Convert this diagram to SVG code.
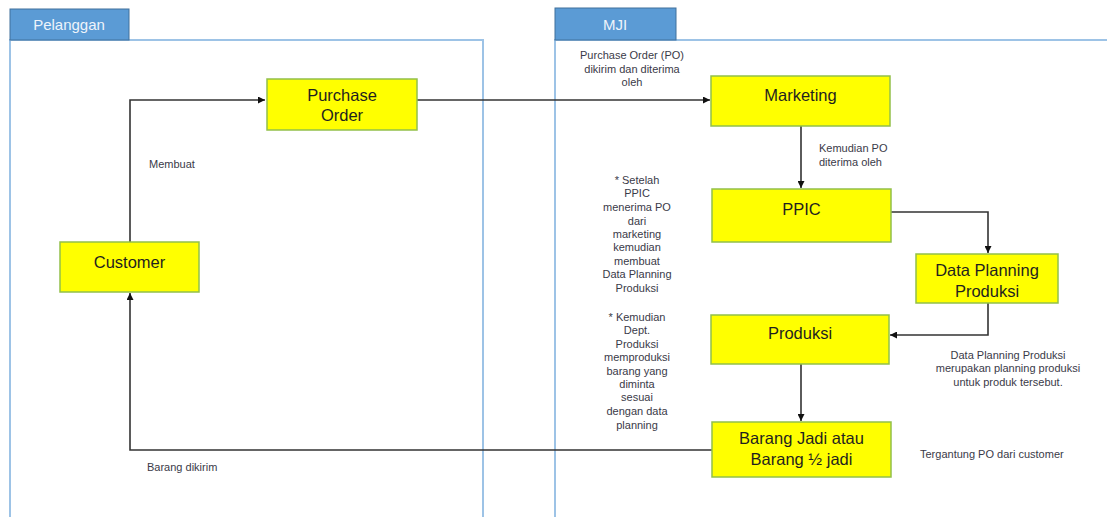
<svg xmlns="http://www.w3.org/2000/svg" width="1107" height="517" viewBox="0 0 1107 517">
<style>
.lane{fill:none;stroke:#9dc3e6;stroke-width:2}
.tab{fill:#5b9bd5;stroke:#41719c;stroke-width:1}
.tabt{font-family:"Liberation Sans",Arial,sans-serif;font-size:15px;fill:#eef4fb;text-anchor:middle}
.box{fill:#ffff00;stroke:#92c04a;stroke-width:1.5}
.bt{font-family:"Liberation Sans",Arial,sans-serif;font-size:16.5px;fill:#1f1f1f;text-anchor:middle}
.st{font-family:"Liberation Sans",Arial,sans-serif;font-size:11px;fill:#3a3a48}
.c{text-anchor:middle}
.ln{fill:none;stroke:#333;stroke-width:1.6}
</style>
<defs>
<marker id="ah" viewBox="0 0 10 10" refX="10" refY="5" markerWidth="7" markerHeight="7" markerUnits="userSpaceOnUse" orient="auto">
<path d="M0,0 L10,5 L0,10 z" fill="#111"/>
</marker>
</defs>
<rect width="1107" height="517" fill="#fff"/>
<g id="lane-pelanggan">
<rect class="lane" x="10" y="40" width="473" height="500"/>
<rect class="tab" x="10" y="9" width="119" height="31"/>
<text class="tabt" x="69" y="30">Pelanggan</text>
</g>
<g id="lane-mji">
<rect class="lane" x="555" y="40" width="570" height="500"/>
<rect class="tab" x="555" y="8" width="121" height="32"/>
<text class="tabt" x="615" y="30">MJI</text>
</g>
<g id="connectors">
<path class="ln" d="M130,242 V100 H265" marker-end="url(#ah)"/>
<path class="ln" d="M417,100 H710" marker-end="url(#ah)"/>
<path class="ln" d="M801,126 V188" marker-end="url(#ah)"/>
<path class="ln" d="M891,212 H988 V253" marker-end="url(#ah)"/>
<path class="ln" d="M988,303 V335 H890" marker-end="url(#ah)"/>
<path class="ln" d="M801,364 V421" marker-end="url(#ah)"/>
<path class="ln" d="M712,450 H130 V293" marker-end="url(#ah)"/>
</g>
<g id="customer">
<rect class="box" x="60" y="242" width="139" height="50"/>
<text class="bt" x="129.5" y="268">Customer</text>
</g>
<g id="purchase-order">
<rect class="box" x="267" y="79" width="150" height="51"/>
<text class="bt" x="342" y="101">Purchase</text>
<text class="bt" x="342" y="121">Order</text>
</g>
<g id="marketing">
<rect class="box" x="711" y="76" width="179" height="50"/>
<text class="bt" x="800.5" y="101">Marketing</text>
</g>
<g id="ppic">
<rect class="box" x="712" y="189" width="179" height="53"/>
<text class="bt" x="801.5" y="215">PPIC</text>
</g>
<g id="data-planning">
<rect class="box" x="916" y="254" width="142" height="49"/>
<text class="bt" x="987" y="276">Data Planning</text>
<text class="bt" x="987" y="297">Produksi</text>
</g>
<g id="produksi">
<rect class="box" x="711" y="315" width="178" height="49"/>
<text class="bt" x="800" y="339">Produksi</text>
</g>
<g id="barang-jadi">
<rect class="box" x="712" y="422" width="179" height="55"/>
<text class="bt" x="801.5" y="444">Barang Jadi atau</text>
<text class="bt" x="801.5" y="465">Barang ½ jadi</text>
</g>
<g id="labels">
<text class="st" x="149" y="168">Membuat</text>
<text class="st" x="147" y="471">Barang dikirim</text>
<text class="st c" x="632" y="59">Purchase Order (PO)</text>
<text class="st c" x="632" y="73">dikirim dan diterima</text>
<text class="st c" x="632" y="86">oleh</text>
<text class="st" x="819" y="152">Kemudian PO</text>
<text class="st" x="819" y="166">diterima oleh</text>
<text class="st c" x="637" y="184">* Setelah</text>
<text class="st c" x="637" y="197">PPIC</text>
<text class="st c" x="637" y="211">menerima PO</text>
<text class="st c" x="637" y="225">dari</text>
<text class="st c" x="637" y="238">marketing</text>
<text class="st c" x="637" y="251">kemudian</text>
<text class="st c" x="637" y="265">membuat</text>
<text class="st c" x="637" y="278">Data Planning</text>
<text class="st c" x="637" y="292">Produksi</text>
<text class="st c" x="637" y="321">* Kemudian</text>
<text class="st c" x="637" y="334">Dept.</text>
<text class="st c" x="637" y="348">Produksi</text>
<text class="st c" x="637" y="361">memproduksi</text>
<text class="st c" x="637" y="375">barang yang</text>
<text class="st c" x="637" y="388">diminta</text>
<text class="st c" x="637" y="401">sesuai</text>
<text class="st c" x="637" y="415">dengan data</text>
<text class="st c" x="637" y="429">planning</text>
<text class="st c" x="1008" y="359">Data Planning Produksi</text>
<text class="st c" x="1008" y="372">merupakan planning produksi</text>
<text class="st c" x="1008" y="386">untuk produk tersebut.</text>
<text class="st" x="920" y="458">Tergantung PO dari customer</text>
</g>
</svg>
